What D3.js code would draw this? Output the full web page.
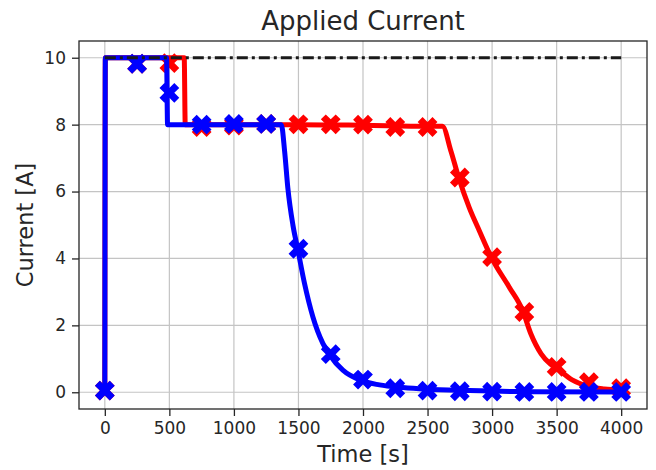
<!DOCTYPE html>
<html>
<head>
<meta charset="utf-8">
<script src="https://cdn.jsdelivr.net/npm/d3@7/dist/d3.min.js"></script>
<style>
  html, body { margin: 0; padding: 0; background: #fff; }
  svg { display: block; font-family: "DejaVu Sans", sans-serif; }
</style>
</head>
<body>
<svg id="chart" width="656" height="470"></svg>
<script>
// Simulated current curves (time in s, current in A)
const blueLineTime    = [0, 4, 478, 486, 1367, 1393, 1418, 1457, 1496, 1547, 1612, 1689, 1741, 1844, 1973, 2128, 2308, 2489, 2824, 3250, 4000];
const blueLineCurrent = [0, 10, 10, 8, 8, 7.2, 6.1, 5.0, 4.25, 3.25, 2.25, 1.46, 1.12, 0.66, 0.37, 0.22, 0.14, 0.09, 0.05, 0.02, 0.01];

const redLineTime    = [0, 4, 615, 623, 1500, 2000, 2500, 2615, 2682, 2741, 2823, 2901, 2992, 3133, 3236, 3300, 3380, 3450, 3500, 3620, 3750, 3870, 4000];
const redLineCurrent = [0, 10, 10, 8, 8.0, 7.98, 7.95, 7.95, 7.2, 6.42, 5.52, 4.83, 4.05, 3.14, 2.45, 1.75, 1.15, 0.85, 0.72, 0.37, 0.17, 0.10, 0.07];

// Measured samples every 250 s
const sampleTime   = [0, 250, 500, 750, 1000, 1250, 1500, 1750, 2000, 2250, 2500, 2750, 3000, 3250, 3500, 3750, 4000];
const blueSamples  = [0.05, 9.82, 8.95, 8.0, 8.02, 8.02, 4.29, 1.14, 0.38, 0.12, 0.05, 0.03, 0.02, 0.01, 0.01, 0.01, 0.01];
const redSamples   = [0.05, 9.82, 9.84, 7.93, 7.97, 8.02, 8.01, 8.01, 8.0, 7.93, 7.93, 6.42, 4.04, 2.4, 0.76, 0.3, 0.12];

// Current limit
const limitTime    = [0, 4000];
const limitCurrent = [10, 10];

const xTicks = [0, 500, 1000, 1500, 2000, 2500, 3000, 3500, 4000];
const yTicks = [0, 2, 4, 6, 8, 10];

const svg = d3.select("#chart");
const plot = { left: 79, right: 647, top: 41, bottom: 409 };
const ink = "#262626";

const x = d3.scaleLinear().domain([-200, 4200]).range([plot.left, plot.right]);
const y = d3.scaleLinear().domain([-0.5, 10.5]).range([plot.bottom, plot.top]);

// grid
const grid = svg.append("g");
grid.selectAll("line.gx").data(xTicks).join("line")
  .attr("x1", d => x(d)).attr("x2", d => x(d))
  .attr("y1", plot.top).attr("y2", plot.bottom)
  .attr("stroke", "#c4c4c4").attr("stroke-width", 1.2);
grid.selectAll("line.gy").data(yTicks).join("line")
  .attr("y1", d => y(d)).attr("y2", d => y(d))
  .attr("x1", plot.left).attr("x2", plot.right)
  .attr("stroke", "#c4c4c4").attr("stroke-width", 1.2);

// axes
const xAxis = svg.append("g")
  .attr("transform", `translate(0,${plot.bottom})`)
  .call(d3.axisBottom(x).tickValues(xTicks).tickSizeInner(7).tickSizeOuter(0).tickPadding(6).tickFormat(d3.format("d")));
const yAxis = svg.append("g")
  .attr("transform", `translate(${plot.left},0)`)
  .call(d3.axisLeft(y).tickValues(yTicks).tickSizeInner(7).tickSizeOuter(0).tickPadding(6).tickFormat(d3.format("d")));
[xAxis, yAxis].forEach(g => {
  g.select(".domain").remove();
  g.selectAll(".tick line").attr("stroke", ink).attr("stroke-width", 1.3);
  g.selectAll(".tick text").attr("fill", ink).style("font-size", "17px").style("font-family", "DejaVu Sans");
});

// frame
svg.append("rect")
  .attr("x", plot.left).attr("y", plot.top)
  .attr("width", plot.right - plot.left).attr("height", plot.bottom - plot.top)
  .attr("fill", "none").attr("stroke", ink).attr("stroke-width", 1.3);

svg.append("clipPath").attr("id", "plotclip")
  .append("rect").attr("x", plot.left).attr("y", plot.top)
  .attr("width", plot.right - plot.left).attr("height", plot.bottom - plot.top);

const layer = svg.append("g").attr("clip-path", "url(#plotclip)");

const line = d3.line().x(d => x(d[0])).y(d => y(d[1])).curve(d3.curveMonotoneX);
const zip = (a, b) => a.map((v, i) => [v, b[i]]);

const xMarker = d3.symbol().type(d3.symbolCross).size(245);

function drawSeries(times, values, sTimes, sValues, color) {
  layer.append("path")
    .attr("d", line(zip(times, values)))
    .attr("fill", "none").attr("stroke", color)
    .attr("stroke-width", 5).attr("stroke-linejoin", "round").attr("stroke-linecap", "butt");
  layer.append("g").selectAll("path").data(zip(sTimes, sValues)).join("path")
    .attr("d", xMarker)
    .attr("transform", d => `translate(${x(d[0])},${y(d[1])}) rotate(45)`)
    .attr("fill", color);
}

drawSeries(redLineTime, redLineCurrent, sampleTime, redSamples, "#ff0000");
drawSeries(blueLineTime, blueLineCurrent, sampleTime, blueSamples, "#0000ff");

layer.append("path")
  .attr("d", d3.line().x(d => x(d[0])).y(d => y(d[1]))(zip(limitTime, limitCurrent)))
  .attr("fill", "none").attr("stroke", "#1a1a1a").attr("stroke-width", 3)
  .attr("stroke-dasharray", "11 4 3 4");

// labels
svg.append("text").attr("x", (plot.left + plot.right) / 2).attr("y", 30)
  .attr("text-anchor", "middle").attr("fill", ink).style("font-size", "26px")
  .text("Applied Current");
svg.append("text").attr("x", (plot.left + plot.right) / 2).attr("y", 462)
  .attr("text-anchor", "middle").attr("fill", ink).style("font-size", "22.5px")
  .text("Time [s]");
svg.append("text")
  .attr("transform", `translate(33,${(plot.top + plot.bottom) / 2}) rotate(-90)`)
  .attr("text-anchor", "middle").attr("fill", ink).style("font-size", "22.5px")
  .text("Current [A]");
</script>
</body>
</html>
